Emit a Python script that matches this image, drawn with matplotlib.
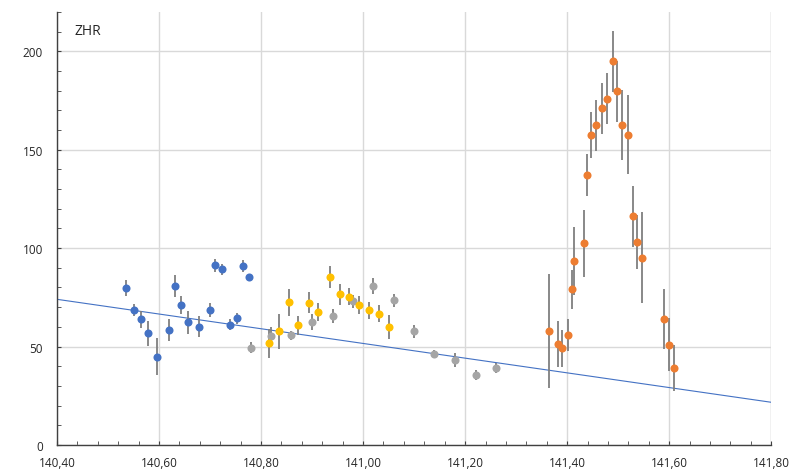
import numpy as np
import matplotlib
matplotlib.use("Agg")
import matplotlib.pyplot as plt
from matplotlib.ticker import MultipleLocator, FuncFormatter

# solar longitude vs ZHR, four observation sets
blue_x = [140.535, 140.551, 140.565, 140.578, 140.597, 140.619, 140.631, 140.643, 140.657,
          140.678, 140.699, 140.710, 140.724, 140.739, 140.752, 140.765, 140.776]
blue_y = [79.9, 68.5, 63.8, 56.7, 44.8, 58.4, 80.7, 71.1, 62.4, 60.1, 68.5, 91.2, 89.2,
          61.1, 64.3, 91.0, 85.3]
blue_err = [4, 3, 4.5, 6.5, 9.5, 5.6, 5.7, 4.5, 5.8, 5.4, 3.4, 3.2, 2.9, 2.7, 3, 3.2, 1]

gray_x = [140.780, 140.819, 140.859, 140.900, 140.941, 140.980, 141.020, 141.060, 141.100,
          141.140, 141.181, 141.221, 141.261]
gray_y = [49.4, 55.5, 55.8, 62.6, 65.6, 72.9, 80.6, 73.4, 57.8, 46.2, 43.1, 35.7, 39.1]
gray_err = [2.9, 4.5, 2.3, 4, 3.6, 3.4, 4, 3.4, 3.4, 2, 3.6, 2.5, 2.5]

yellow_x = [140.816, 140.835, 140.854, 140.873, 140.894, 140.912, 140.935, 140.954, 140.973,
            140.992, 141.012, 141.032, 141.050]
yellow_y = [51.6, 57.7, 72.5, 60.9, 72.2, 67.5, 85.3, 76.5, 75.3, 71.2, 68.4, 66.7, 59.9]
yellow_err = [7.4, 8.9, 6.8, 4.8, 5.3, 4.4, 5.8, 5.2, 4.4, 4.5, 4.4, 4.3, 6.3]

orange_x = [141.365, 141.382, 141.390, 141.401, 141.409, 141.414, 141.434, 141.439, 141.447,
            141.457, 141.469, 141.479, 141.490, 141.498, 141.508, 141.520, 141.530, 141.537,
            141.547, 141.589, 141.599, 141.610]
orange_y = [57.9, 51.1, 49.1, 55.7, 79.0, 93.6, 102.4, 137.2, 157.5, 162.3, 171.1, 176.0,
            194.8, 179.7, 162.4, 157.7, 116.1, 103.2, 95.1, 64.0, 50.9, 38.9]
orange_err = [29, 11.7, 9.3, 8.1, 9.7, 17.2, 17.2, 10.6, 11.8, 13.1, 12.9, 13.2, 15.7, 15.5,
              17.8, 20, 15.7, 13.7, 23, 15.4, 13.5, 11.7]

# background trend
trend_x = [140.40, 141.80]
trend_y = [74.0, 21.7]

series = [
    (blue_x, blue_y, blue_err, "#4472C4"),
    (gray_x, gray_y, gray_err, "#A5A5A5"),
    (yellow_x, yellow_y, yellow_err, "#FFC000"),
    (orange_x, orange_y, orange_err, "#ED7D31"),
]

plt.rcParams['font.family'] = ['Open Sans', 'DejaVu Sans']

fig = plt.figure(figsize=(7.91, 4.77), dpi=100)
ax = fig.add_axes([0.072, 0.065, 0.903, 0.908])

for xs, ys, errs, col in series:
    ax.errorbar(xs, ys, yerr=errs, fmt='none', ecolor='#7F7F7F', elinewidth=1.3,
                capsize=0, zorder=3)
    ax.plot(xs, ys, 'o', color=col, markersize=5.8, markeredgewidth=0, zorder=4)

ax.plot(trend_x, trend_y, '-', color='#4472C4', linewidth=0.8, zorder=2)

ax.set_xlim(140.40, 141.80)
ax.set_ylim(0, 220)

ax.xaxis.set_major_locator(MultipleLocator(0.2))
ax.xaxis.set_minor_locator(MultipleLocator(0.04))
ax.yaxis.set_major_locator(MultipleLocator(50))
ax.yaxis.set_minor_locator(MultipleLocator(10))
ax.xaxis.set_major_formatter(FuncFormatter(lambda v, p: f"{v:.2f}".replace('.', ',')))

ax.grid(True, which='major', color='#D9D9D9', linewidth=1.0, zorder=0)
ax.set_axisbelow(True)
ax.axvline(141.80, color='#D9D9D9', linewidth=1.0, zorder=0)

for s in ['top', 'right']:
    ax.spines[s].set_visible(False)
for s in ['left', 'bottom']:
    ax.spines[s].set_color('#404040')
    ax.spines[s].set_linewidth(1.0)

ax.tick_params(axis='both', which='both', direction='in', color='#404040', labelsize=8.5,
               labelcolor='#262626')
ax.tick_params(axis='both', which='major', length=3)
ax.tick_params(axis='both', which='minor', length=3)
ax.tick_params(axis='x', which='major', pad=8)
ax.tick_params(axis='y', which='major', pad=10)

ax.text(0.025, 0.975, "ZHR", transform=ax.transAxes, fontsize=10, color='#262626',
        va='top', ha='left')

fig.savefig("out.png", dpi=100)
